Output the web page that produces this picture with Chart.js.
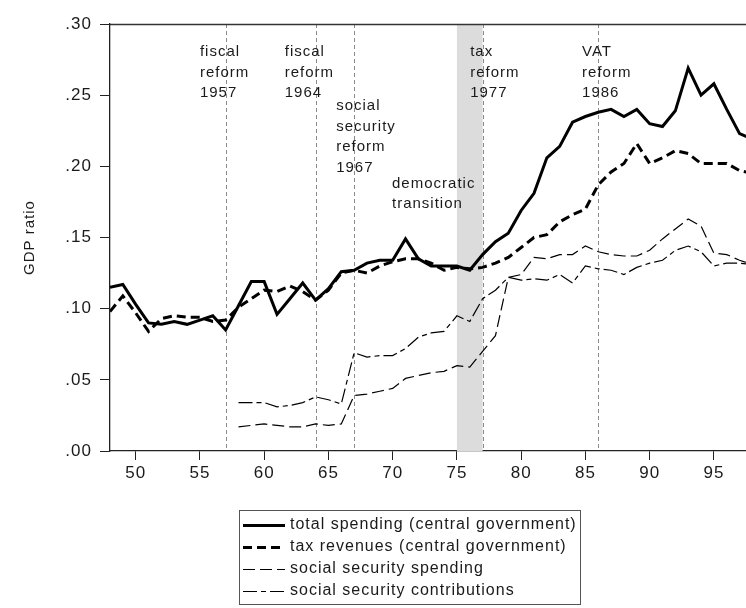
<!DOCTYPE html>
<html><head><meta charset="utf-8">
<script src="https://cdn.jsdelivr.net/npm/chart.js@4"></script>
<style>html,body{margin:0;padding:0;background:#fff;}canvas{display:block;}</style>
</head><body>
<canvas id="c" width="746" height="608"></canvas>
<script>
// ---- data (years are 19xx) ----
const years = [48,49,50,51,52,53,54,55,56,57,58,59,60,61,62,63,64,65,66,67,68,69,70,71,72,73,74,75,76,77,78,79,80,81,82,83,84,85,86,87,88,89,90,91,92,93,94,95,96,97,98];
const totalSpending = [0.115,0.117,0.103,0.090,0.089,0.091,0.089,0.092,0.095,0.085,0.102,0.119,0.119,0.096,0.107,0.118,0.106,0.114,0.126,0.127,0.132,0.134,0.134,0.149,0.135,0.130,0.130,0.130,0.127,0.138,0.147,0.153,0.169,0.181,0.206,0.214,0.231,0.235,0.238,0.240,0.235,0.240,0.230,0.228,0.239,0.269,0.250,0.258,0.240,0.223,0.219];
const taxRevenues = [0.098,0.109,0.097,0.084,0.093,0.095,0.094,0.094,0.091,0.092,0.101,0.107,0.113,0.112,0.116,0.112,0.106,0.113,0.125,0.127,0.125,0.130,0.133,0.135,0.135,0.132,0.127,0.129,0.128,0.129,0.132,0.136,0.143,0.150,0.152,0.161,0.166,0.170,0.187,0.196,0.202,0.216,0.202,0.206,0.211,0.209,0.202,0.202,0.202,0.197,0.195];
const ssSpending = [null,null,null,null,null,null,null,null,null,null,0.017,0.018,0.019,0.018,0.017,0.017,0.019,0.018,0.019,0.039,0.040,0.042,0.044,0.051,0.053,0.055,0.056,0.060,0.059,0.070,0.081,0.122,0.124,0.136,0.135,0.138,0.138,0.144,0.140,0.138,0.137,0.137,0.141,0.149,0.156,0.163,0.158,0.139,0.138,0.134,0.131];
const ssContributions = [null,null,null,null,null,null,null,null,null,null,0.034,0.034,0.034,0.031,0.032,0.034,0.038,0.036,0.033,0.069,0.066,0.067,0.067,0.072,0.080,0.083,0.084,0.095,0.091,0.107,0.113,0.122,0.120,0.121,0.120,0.124,0.118,0.130,0.128,0.127,0.124,0.129,0.132,0.134,0.141,0.144,0.140,0.130,0.132,0.132,0.131];
const seriesLabels = ['total spending (central government)','tax revenues (central government)','social security spending','social security contributions'];
const xTickValues = [50,55,60,65,70,75,80,85,90,95];
const yTickValues = [0,0.05,0.10,0.15,0.20,0.25,0.30];
const reformYears = [57,64,67,77,86];
const shadedPeriod = [75,77];
const noteTexts = [
  ['fiscal','reform','1957'],
  ['fiscal','reform','1964'],
  ['social','security','reform','1967'],
  ['democratic','transition'],
  ['tax','reform','1977'],
  ['VAT','reform','1986']
];
// anchors of the notes (year, ratio of first text line)
const noteAnchors = [[55,0.2804],[61.6,0.2804],[65.6,0.2422],[69.95,0.1879],[76.03,0.2804],[84.74,0.2804]];

const FONT = '"Liberation Sans", Arial, Helvetica, sans-serif';
const INK = '#1a1a1a';

function pts(arr){ return years.map((yr,i)=>({x:yr,y:arr[i]})); }

const extras = {
  id:'extras',
  beforeUpdate(chart){ chart.ctx.letterSpacing = '1px'; },
  beforeDraw(chart){ chart.ctx.letterSpacing = '1px'; },
  beforeDatasetsDraw(chart){
    const {ctx, chartArea:a, scales:{x,y}} = chart;
    ctx.save();
    const s0 = x.getPixelForValue(shadedPeriod[0]), s1 = x.getPixelForValue(shadedPeriod[1]);
    ctx.fillStyle = '#dcdcdc';
    ctx.fillRect(s0, a.top, s1-s0, a.bottom-a.top);
    ctx.strokeStyle = '#8a8a8a'; ctx.lineWidth = 1; ctx.setLineDash([4,3]);
    reformYears.forEach(yr=>{
      const px = Math.round(x.getPixelForValue(yr))+0.5;
      ctx.beginPath(); ctx.moveTo(px,a.top); ctx.lineTo(px,a.bottom); ctx.stroke();
    });
    ctx.setLineDash([]);
    ctx.fillStyle = INK; ctx.font = '15px '+FONT; ctx.textBaseline='middle'; ctx.textAlign='left';
    noteTexts.forEach((lines,k)=>{
      const px = x.getPixelForValue(noteAnchors[k][0]), py = y.getPixelForValue(noteAnchors[k][1]);
      lines.forEach((t,i)=>ctx.fillText(t, px, py+i*20.5));
    });
    ctx.restore();
  },
  afterDraw(chart){
    const {ctx, chartArea:a} = chart;
    ctx.save();
    ctx.strokeStyle = '#333'; ctx.lineWidth = 1.3;
    ctx.beginPath(); ctx.moveTo(a.left, Math.round(a.top)+0.5); ctx.lineTo(a.right, Math.round(a.top)+0.5); ctx.stroke();
    // legend box
    ctx.strokeStyle = '#555'; ctx.lineWidth = 1;
    ctx.strokeRect(239.5, 510.5, 341, 94);
    ctx.font = '16px '+FONT; ctx.textBaseline='middle'; ctx.textAlign='left'; ctx.fillStyle = INK;
    chart.data.datasets.forEach((ds,i)=>{
      const yy = 525 + i*22;
      ctx.strokeStyle = ds.borderColor; ctx.lineWidth = ds.borderWidth;
      ctx.setLineDash(ds.borderDash||[]);
      ctx.beginPath(); ctx.moveTo(243, yy+0.5); ctx.lineTo(285, yy+0.5); ctx.stroke();
      ctx.setLineDash([]);
      ctx.fillText(ds.label, 290, yy);
    });
    ctx.restore();
  }
};

const common = {pointRadius:0, tension:0, borderColor:'#000', borderJoinStyle:'miter', fill:false};
new Chart(document.getElementById('c'), {
  type:'line',
  data:{datasets:[
    Object.assign({label:seriesLabels[0], data:pts(totalSpending), borderWidth:3}, common),
    Object.assign({label:seriesLabels[1], data:pts(taxRevenues), borderWidth:3, borderDash:[9,5]}, common),
    Object.assign({label:seriesLabels[2], data:pts(ssSpending), borderWidth:1.2, borderDash:[12,5]}, common),
    Object.assign({label:seriesLabels[3], data:pts(ssContributions), borderWidth:1.2, borderDash:[14,4,5,4]}, common)
  ]},
  options:{
    responsive:false, animation:false, devicePixelRatio:1,
    layout:{padding:{top:24,right:0,left:0,bottom:0}},
    plugins:{legend:{display:false}, tooltip:{enabled:false}},
    scales:{
      x:{type:'linear', min:48, max:97.5,
        afterBuildTicks:s=>{s.ticks = xTickValues.map(v=>({value:v}));},
        afterFit:s=>{s.height=157;},
        grid:{drawOnChartArea:false, drawTicks:true, tickLength:9, color:'#222'},
        border:{display:true, color:'#222', width:1.3},
        ticks:{font:{family:FONT,size:17}, color:INK, padding:3, maxRotation:0, autoSkip:false}
      },
      y:{min:0, max:0.3,
        afterBuildTicks:s=>{s.ticks = yTickValues.map(v=>({value:v}));},
        afterFit:s=>{s.width=110;},
        grid:{drawOnChartArea:false, drawTicks:true, tickLength:10, color:'#222'},
        border:{display:true, color:'#222', width:1.3},
        ticks:{font:{family:FONT,size:17}, color:INK, padding:8, callback:v=>v.toFixed(2).replace(/^0/,'')},
        title:{display:true, text:'GDP ratio', font:{family:FONT,size:15}, color:INK, padding:{top:21,bottom:0}}
      }
    }
  },
  plugins:[extras]
});
</script>
</body></html>
